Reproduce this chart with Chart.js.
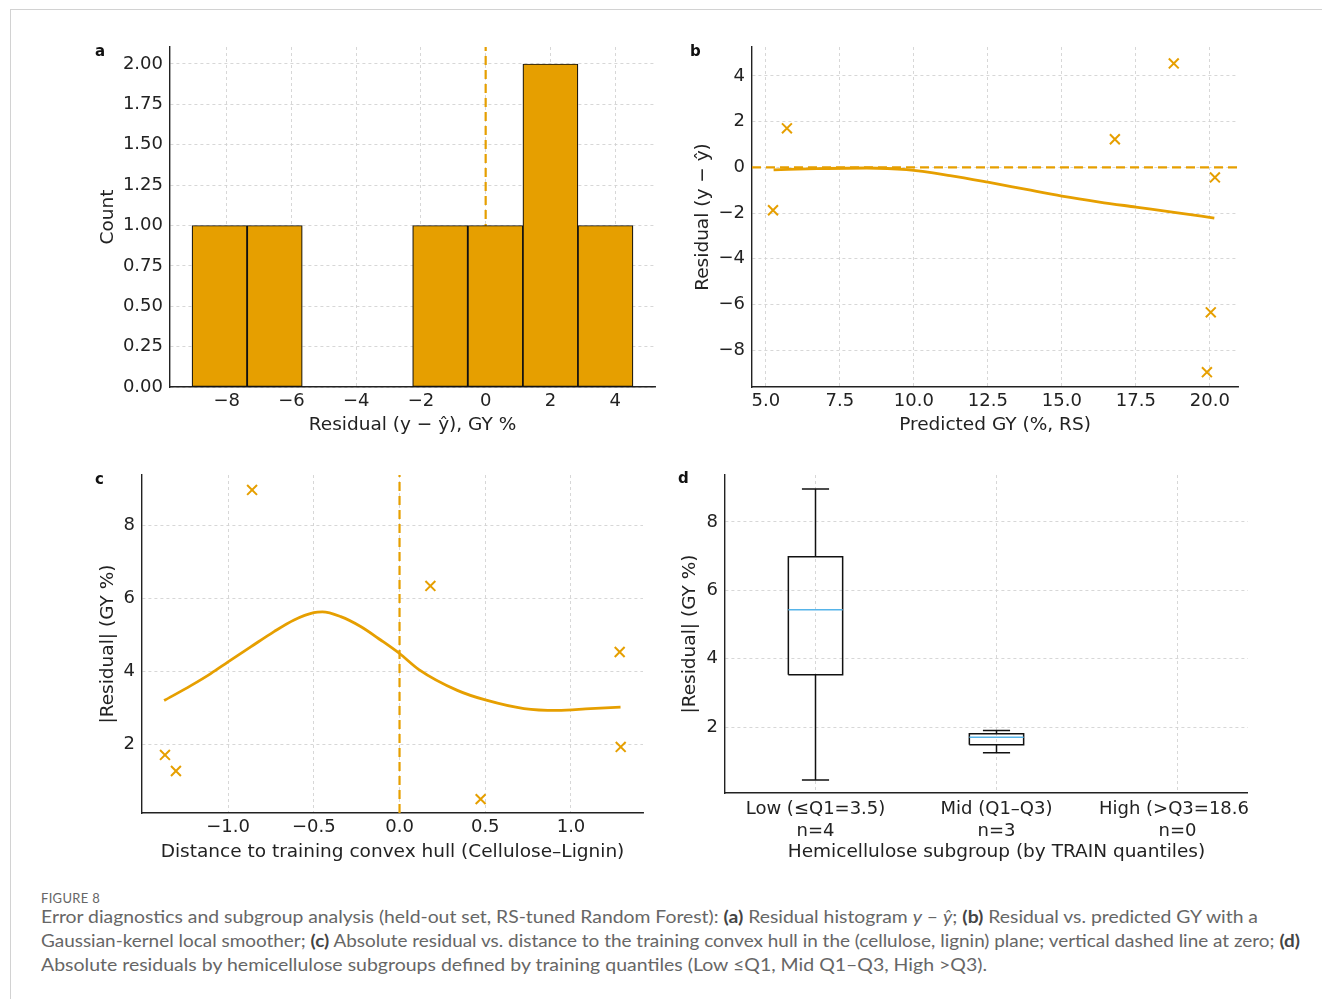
<!DOCTYPE html>
<html lang="en">
<head>
<meta charset="UTF-8">
<title>Figure 8 - Error diagnostics and subgroup analysis</title>
<script src="https://cdn.jsdelivr.net/npm/chart.js"></script>
<style>
  body { margin: 0; background: #fff; }
  #page { position: relative; width: 1322px; height: 999px; overflow: hidden; }
  .frame { position: absolute; left: 10px; top: 9px; width: 1340px; height: 1000px;
           border-top: 1px solid #d2d2d2; border-left: 1px solid #d2d2d2; }
  .panel { position: absolute; }
  .tag { position: absolute; font: bold 15px "DejaVu Sans", sans-serif; color: #111; }
  .figno { position: absolute; left: 41px; top: 890px; font: 13px Lato, sans-serif; color: #666; letter-spacing: 0.3px; }
  .caption { position: absolute; left: 41px; top: 905px; font: 17px Lato, sans-serif; color: #666; line-height: 24px; }
  .caption span { display: block; width: max-content; white-space: nowrap; transform-origin: left center; }
  .caption b { color: #444; }
</style>
</head>
<body>
<div id="page">
  <div class="frame"></div>

  <div class="panel" style="left:90px; top:22px;"><canvas id="chartA" width="580" height="418"></canvas></div>
  <div class="panel" style="left:670px; top:22px;"><canvas id="chartB" width="580" height="418"></canvas></div>
  <div class="panel" style="left:90px; top:450px;"><canvas id="chartC" width="570" height="420"></canvas></div>
  <div class="panel" style="left:670px; top:450px; width:578px; height:420px; overflow:hidden;"><canvas id="chartD" width="620" height="420"></canvas></div>

  <div class="tag" style="left:95px; top:42px;">a</div>
  <div class="tag" style="left:690px; top:42px;">b</div>
  <div class="tag" style="left:95px; top:470px;">c</div>
  <div class="tag" style="left:678px; top:469px;">d</div>

  <div class="figno">FIGURE 8</div>
  <div class="caption">
    <span data-w="1217">Error diagnostics and subgroup analysis (held-out set, RS-tuned Random Forest): <b>(a)</b> Residual histogram <i>y</i> – <i>ŷ</i>; <b>(b)</b> Residual vs. predicted GY with a</span>
    <span data-w="1259">Gaussian-kernel local smoother; <b>(c)</b> Absolute residual vs. distance to the training convex hull in the (cellulose, lignin) plane; vertical dashed line at zero; <b>(d)</b></span>
    <span data-w="946">Absolute residuals by hemicellulose subgroups defined by training quantiles (Low ≤Q1, Mid Q1–Q3, High &gt;Q3).</span>
  </div>
</div>

<script>
    // ---- data ----
    // (a) residual histogram
    const binEdges = [-9.07, -7.37, -5.66, -3.96, -2.26, -0.55, 1.15, 2.85, 4.55];
    const binCounts = [1, 1, 0, 0, 1, 1, 2, 1];

    // (b) residual vs predicted
    const predGY = [5.24, 5.71, 16.79, 18.78, 20.17, 20.03, 19.90];
    const residB = [-1.88, 1.71, 1.23, 4.55, -0.44, -6.35, -8.97];
    const smoothBX = [5.26, 6.72, 8.41, 9.75, 11.22, 12.5, 13.8, 15.0, 16.27, 17.5, 18.85, 20.15];
    const smoothBY = [-0.11, -0.06, -0.03, -0.10, -0.36, -0.65, -0.97, -1.26, -1.52, -1.74, -1.98, -2.22];

    // (c) |residual| vs distance to hull
    const hullDist = [-1.368, -1.304, -0.86, 0.18, 0.473, 1.284, 1.29];
    const absResid = [1.70, 1.26, 8.96, 6.33, 0.49, 4.52, 1.92];
    const smoothCX = [-1.373, -1.217, -1.101, -1.0, -0.868, -0.732, -0.615, -0.5, -0.45, -0.343, -0.227, -0.11, 0.0, 0.113, 0.337, 0.506, 0.726, 0.92, 1.114, 1.289];
    const smoothCY = [3.19, 3.60, 3.93, 4.25, 4.66, 5.08, 5.40, 5.60, 5.62, 5.49, 5.22, 4.85, 4.48, 4.04, 3.47, 3.20, 2.97, 2.92, 2.97, 3.01];

    // (d) boxplot by hemicellulose subgroup
    const groupLabels = [['Low (≤Q1=3.5)', 'n=4'], ['Mid (Q1–Q3)', 'n=3'], ['High (>Q3=18.6)', 'n=0']];
    const boxMin = [0.45, 1.25, null];
    const boxQ1 = [3.53, 1.48, null];
    const boxMed = [5.43, 1.70, null];
    const boxQ3 = [6.98, 1.80, null];
    const boxMax = [8.96, 1.90, null];

    // axis limits and ticks
    const aX = [-9.75, 5.23], aY = [0, 2.105];
    const aXTicks = [-8, -6, -4, -2, 0, 2, 4];
    const aYTicks = [0, 0.25, 0.5, 0.75, 1.0, 1.25, 1.5, 1.75, 2.0];
    const bX = [4.53, 20.95], bY = [-9.62, 5.27];
    const bXTicks = [5, 7.5, 10, 12.5, 15, 17.5, 20];
    const bYTicks = [-8, -6, -4, -2, 0, 2, 4];
    const cX = [-1.502, 1.42], cY = [0.11, 9.37];
    const cXTicks = [-1, -0.5, 0, 0.5, 1];
    const cYTicks = [2, 4, 6, 8];
    const dX = [0.5, 3.5], dY = [0.07, 9.37];
    const dYTicks = [2, 4, 6, 8];

    const ORANGE = '#E69F00';
    const SKY = '#56B4E9';

    Chart.defaults.font.family = '"DejaVu Sans", sans-serif';
    Chart.defaults.font.size = 18;
    Chart.defaults.color = '#222';
    Chart.defaults.animation = false;
    Chart.defaults.plugins.legend.display = false;
    Chart.defaults.plugins.tooltip.enabled = false;

    const minus = s => String(s).replace('-', '\u2212');

    // one linear axis in the matplotlib look: dashed grid, no tick marks, solid spine
    function axis(lim, ticks, fmt, title, size, titlePad, tickPad) {
        const horiz = size.h !== undefined;
        return {
            type: 'linear', min: lim[0], max: lim[1], offset: false,
            afterBuildTicks: s => { s.ticks = ticks.map(v => ({ value: v })); },
            afterFit: s => { if (horiz) s.height = size.h; else s.width = size.w; },
            ticks: { callback: v => fmt(v), padding: tickPad || (horiz ? 4 : 7), autoSkip: false, maxRotation: 0, color: '#222' },
            grid: { color: '#d3d3d3', lineWidth: 0.9, drawTicks: false, offset: false },
            border: { color: '#222', width: 1.4, dash: [3, 3] },
            title: { display: true, text: title, color: '#222', padding: titlePad, font: { size: 18.5 } }
        };
    }

    // (a)
    new Chart(document.getElementById('chartA'), {
        type: 'bar',
        data: {
            datasets: [{
                type: 'bar',
                data: binCounts.map((c, i) => ({ x: (binEdges[i] + binEdges[i + 1]) / 2, y: c })),
                backgroundColor: ORANGE, borderColor: '#111', borderWidth: 1.2,
                borderSkipped: false, barPercentage: 1, categoryPercentage: 1, order: 0
            }, {
                type: 'line',
                data: [{ x: 0, y: aY[0] }, { x: 0, y: aY[1] }],
                borderColor: ORANGE, borderWidth: 2.2, borderDash: [9, 5], pointRadius: 0, order: 1
            }]
        },
        options: {
            responsive: false,
            layout: { padding: { left: 0, top: 25, right: 15, bottom: 0 } },
            scales: {
                x: axis(aX, aXTicks, v => minus(v), 'Residual (y \u2212 \u0177), GY %', { h: 53 }, { top: 0, bottom: 4 }),
                y: axis(aY, aYTicks, v => v.toFixed(2), 'Count', { w: 80 }, { top: 7, bottom: 0 })
            }
        }
    });

    // (b)
    new Chart(document.getElementById('chartB'), {
        type: 'scatter',
        data: {
            datasets: [{
                data: predGY.map((x, i) => ({ x: x, y: residB[i] })),
                pointStyle: 'crossRot', pointRadius: 7, pointBorderWidth: 2,
                borderColor: ORANGE, backgroundColor: ORANGE, showLine: false
            }, {
                data: smoothBX.map((x, i) => ({ x: x, y: smoothBY[i] })),
                showLine: true, borderColor: ORANGE, borderWidth: 2.8, pointRadius: 0,
                cubicInterpolationMode: 'monotone'
            }, {
                data: [{ x: bX[0], y: 0 }, { x: bX[1], y: 0 }],
                showLine: true, borderColor: ORANGE, borderWidth: 2.2, borderDash: [9, 5], pointRadius: 0
            }]
        },
        options: {
            responsive: false,
            layout: { padding: { left: 0, top: 25, right: 12, bottom: 0 } },
            scales: {
                x: axis(bX, bXTicks, v => v.toFixed(1), 'Predicted GY (%, RS)', { h: 53 }, { top: 0, bottom: 4 }),
                y: axis(bY, bYTicks, v => minus(v), 'Residual (y \u2212 \u0177)', { w: 82 }, { top: 22, bottom: 0 })
            }
        }
    });

    // (c)
    new Chart(document.getElementById('chartC'), {
        type: 'scatter',
        data: {
            datasets: [{
                data: hullDist.map((x, i) => ({ x: x, y: absResid[i] })),
                pointStyle: 'crossRot', pointRadius: 7, pointBorderWidth: 2,
                borderColor: ORANGE, backgroundColor: ORANGE, showLine: false
            }, {
                data: smoothCX.map((x, i) => ({ x: x, y: smoothCY[i] })),
                showLine: true, borderColor: ORANGE, borderWidth: 2.8, pointRadius: 0,
                cubicInterpolationMode: 'monotone'
            }, {
                data: [{ x: 0, y: cY[0] }, { x: 0, y: cY[1] }],
                showLine: true, borderColor: ORANGE, borderWidth: 2.2, borderDash: [9, 5], pointRadius: 0
            }]
        },
        options: {
            responsive: false,
            layout: { padding: { left: 0, top: 25, right: 17, bottom: 0 } },
            scales: {
                x: axis(cX, cXTicks, v => minus(v.toFixed(1)), 'Distance to training convex hull (Cellulose\u2013Lignin)', { h: 57 }, { top: 0, bottom: 7 }),
                y: axis(cY, cYTicks, v => String(v), '|Residual| (GY %)', { w: 52 }, { top: 7, bottom: 0 })
            }
        }
    });

    // (d) boxes built as line segments in data units
    const boxLines = [], medLines = [];
    const halfBox = 0.15, halfCap = 0.075;
    groupLabels.forEach((g, i) => {
        if (boxMed[i] === null) return;
        const x = i + 1;
        boxLines.push(
            { x: x - halfBox, y: boxQ1[i] }, { x: x + halfBox, y: boxQ1[i] },
            { x: x + halfBox, y: boxQ3[i] }, { x: x - halfBox, y: boxQ3[i] },
            { x: x - halfBox, y: boxQ1[i] }, { x: x, y: null },
            { x: x, y: boxQ3[i] }, { x: x, y: boxMax[i] }, { x: x, y: null },
            { x: x, y: boxQ1[i] }, { x: x, y: boxMin[i] }, { x: x, y: null },
            { x: x - halfCap, y: boxMax[i] }, { x: x + halfCap, y: boxMax[i] }, { x: x, y: null },
            { x: x - halfCap, y: boxMin[i] }, { x: x + halfCap, y: boxMin[i] }, { x: x, y: null }
        );
        medLines.push({ x: x - halfBox, y: boxMed[i] }, { x: x + halfBox, y: boxMed[i] }, { x: x, y: null });
    });

    new Chart(document.getElementById('chartD'), {
        type: 'scatter',
        data: {
            datasets: [{
                data: medLines, showLine: true, borderColor: SKY, borderWidth: 1.6, pointRadius: 0, spanGaps: false
            }, {
                data: boxLines, showLine: true, borderColor: '#111', borderWidth: 1.5, pointRadius: 0, spanGaps: false,
                borderJoinStyle: 'miter'
            }]
        },
        options: {
            responsive: false,
            layout: { padding: { left: 0, top: 25, right: 22, bottom: 0 } },
            scales: {
                x: axis(dX, [1, 2, 3], v => groupLabels[Math.round(v) - 1], 'Hemicellulose subgroup (by TRAIN quantiles)', { h: 77 }, { top: 0, bottom: 7 }, 6),
                y: axis(dY, dYTicks, v => String(v), '|Residual| (GY %)', { w: 55 }, { top: 9, bottom: 0 })
            }
        }
    });

    // squeeze caption lines to the widths in the figure
    document.querySelectorAll('.caption span').forEach(sp => {
        const target = +sp.dataset.w;
        const w = sp.getBoundingClientRect().width;
        sp.style.transform = 'scaleX(' + (target / w) + ')';
    });
</script>
</body>
</html>
